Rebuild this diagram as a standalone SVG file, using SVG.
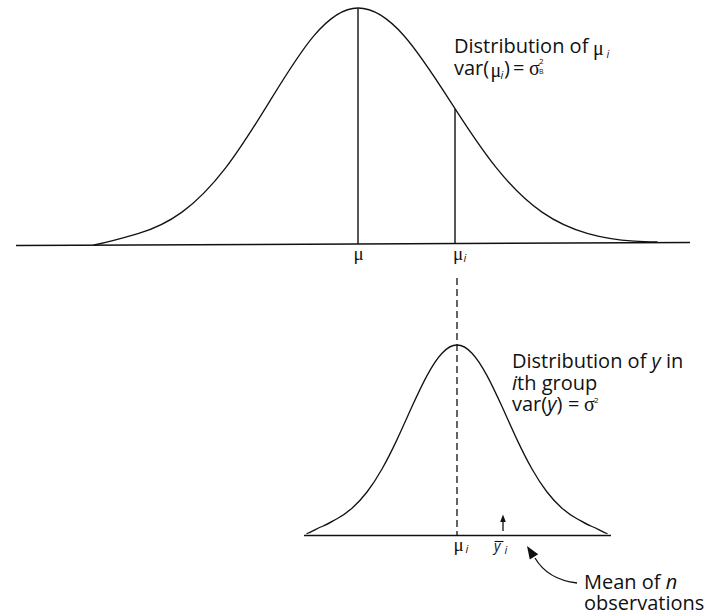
<svg xmlns="http://www.w3.org/2000/svg" width="712" height="616" viewBox="0 0 712 616">
<style>
.curve{fill:none;stroke:#111;stroke-width:1.3;stroke-linecap:round;stroke-linejoin:round}
.axis{fill:none;stroke:#111;stroke-width:1.5;stroke-linecap:butt}
.vline{fill:none;stroke:#111;stroke-width:1.4}
.dash{fill:none;stroke:#111;stroke-width:1.3;stroke-dasharray:7 4}
.lbl{font-family:"Open Sans","Noto Sans","Liberation Sans",sans-serif;font-size:20px;fill:#111}
.it{font-style:italic}
.gk{font-family:"Liberation Serif","DejaVu Serif",serif;font-size:19px;fill:#111}
.gki{font-family:"Liberation Serif","DejaVu Serif",serif;font-size:20px;fill:#111}
.sub{font-family:"Open Sans","Noto Sans","Liberation Sans",sans-serif;font-style:italic;font-size:11px;fill:#111}
.tiny{font-family:"Open Sans","Noto Sans","Liberation Sans",sans-serif;font-size:8px;fill:#111}
.tinyb{font-family:"Open Sans","Noto Sans","Liberation Sans",sans-serif;font-size:7px;fill:#111}
.ptr{fill:none;stroke:#111;stroke-width:1.3}
.head{fill:#111;stroke:none}
</style>
<rect width="712" height="616" fill="#fff"/>

<g id="top-distribution">
<line class="axis" x1="16" y1="245.5" x2="690" y2="242.5"/>
<path class="curve" d="M 94 245 C 108.7 242 123.3 237.9 138 233.6 C 152.7 229.3 167.3 222.8 182 212.1 C 196.7 201.5 211.3 186.6 226 167.4 C 240.7 148.2 255.3 124.8 270 100.9 C 284.7 77 299.3 53.1 314 35.7 C 328.7 18.3 343.3 8 358 8 C 373.3 8 388.7 18.3 404 35.7 C 419.3 53.1 434.7 77 450 100.9 C 465.3 124.8 480.7 148.3 496 167.4 C 511.3 186.5 526.7 201.5 542 212.1 C 557.3 222.7 572.7 229.3 588 233.6 C 603.3 237.9 618.7 240.1 634 241.2 C 641.7 241.7 649.3 241.9 657 242"/>
<line class="vline" x1="358" y1="8.5" x2="358" y2="244"/>
<line class="vline" x1="455" y1="109" x2="455" y2="243.6"/>
<text class="gk" x="358.5" y="260" text-anchor="middle">μ</text>
<text class="gk" x="453" y="260">μ</text>
<text class="sub" x="463.5" y="262">i</text>
</g>

<g id="top-label">
<text class="lbl" x="454" y="53">Distribution of</text>
<text class="gki" x="593" y="55">μ</text>
<text class="sub" x="606.5" y="58">i</text>
<text class="lbl" x="454" y="75">var(</text>
<text class="gki" x="490.5" y="77">μ</text>
<text class="sub" x="500.5" y="79">i</text>
<text class="lbl" x="504" y="75">)</text>
<text class="lbl" x="513" y="75">=</text>
<text class="gki" x="529" y="75">σ</text>
<text class="tiny" x="539" y="64">2</text>
<text class="tinyb" x="539" y="74">B</text>
</g>

<g id="bottom-distribution">
<line class="axis" x1="304" y1="535.5" x2="611" y2="535.5"/>
<path class="curve" d="M 307 533.5 C 312 532 317 528.2 322 526.5 C 327 524.8 332 521.4 337 518.7 C 342 515.98 347 512.55 352 508.2 C 357 503.85 362 498.5 367 492 C 372 485.5 377 477.83 382 469 C 387 460.17 392 450.24 397 439.6 C 402 428.96 407 417.62 412 406.6 C 417 395.58 422 384.87 427 375.6 C 432 366.33 437 358.54 442 353.2 C 447 347.87 452 345 457 345 C 462 345 467 347.87 472 353.2 C 477 358.54 482 366.33 487 375.6 C 492 384.87 497 395.58 502 406.6 C 507 417.62 512 428.96 517 439.6 C 522 450.24 527 460.17 532 469 C 537 477.83 542 485.5 547 492 C 552 498.5 557 503.85 562 508.2 C 567 512.55 572 515.98 577 518.7 C 582 521.4 587 524.8 592 526.5 C 597 528.2 602 532 607 533.5"/>
<text class="gk" x="458.5" y="551" text-anchor="middle">μ</text>
<text class="sub" x="465.5" y="553">i</text>
<line x1="494.5" y1="541.5" x2="503.5" y2="541.5" stroke="#111" stroke-width="1.1"/>
<text class="lbl it" x="494" y="551" style="font-size:14px">y</text>
<text class="sub" x="504.5" y="554">i</text>
</g>

<g id="bottom-label">
<text class="lbl" x="512" y="368">Distribution of <tspan class="it">y</tspan> in</text>
<text class="lbl" x="512" y="389.5"><tspan class="it">i</tspan>th group</text>
<text class="lbl" x="512" y="411">var(<tspan class="it">y</tspan>)</text>
<text class="lbl" x="568" y="411">=</text>
<text class="gki" x="584" y="411">σ</text>
<text class="tiny" x="594" y="403">2</text>
</g>

<g id="mean-label">
<text class="lbl" x="584" y="589">Mean of <tspan class="it">n</tspan></text>
<text class="lbl" x="584" y="610">observations</text>
</g>

<g id="connectors">
<line class="dash" x1="457" y1="278" x2="457" y2="535"/>
<line class="ptr" x1="503" y1="531" x2="503" y2="521"/>
<polygon class="head" points="503,514.5 500.2,522 505.8,522"/>
<path class="ptr" d="M 577 583 C 560 581 545 575 535 558"/>
<polygon class="head" points="527,546 538.2,554.2 529.8,559.6"/>
</g>
</svg>
